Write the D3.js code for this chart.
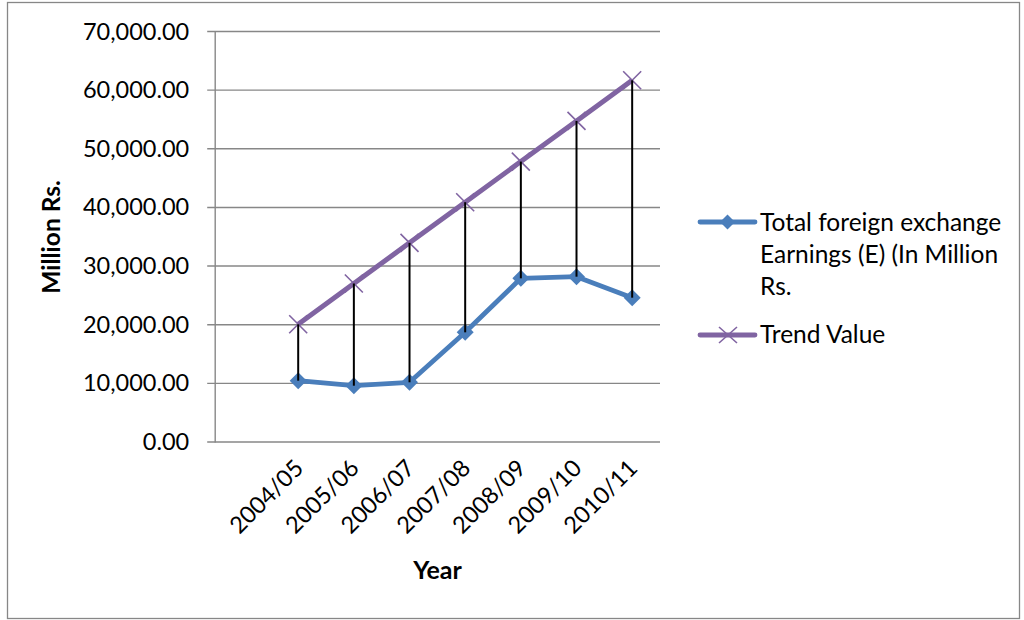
<!DOCTYPE html>
<html>
<head>
<meta charset="utf-8">
<script src="https://cdn.jsdelivr.net/npm/d3@7"></script>
<style>
  html, body { margin: 0; padding: 0; background: #fff; }
  svg { display: block; }
  text { font-family: Lato, "Open Sans", sans-serif; fill: #000; }
</style>
</head>
<body>
<svg id="chart" width="1024" height="620"></svg>
<script>
const categories = ["2004/05", "2005/06", "2006/07", "2007/08", "2008/09", "2009/10", "2010/11"];
const earnings = [10460, 9600, 10180, 18700, 27910, 28190, 24610];
const trend = [20070, 27030, 33960, 40890, 47820, 54750, 61680];
const yTicks = [0, 10000, 20000, 30000, 40000, 50000, 60000, 70000];
const seriesNames = ["Total foreign exchange|Earnings (E) (In Million|Rs.", "Trend Value"];

(function () {
const svg = d3.select("#chart");
const pLeft = 214.7, pRight = 660, pTop = 31.5, pBottom = 442;
const blue = "#4a7ebb", purple = "#8064a2", grid = "#878787";

svg.append("rect").attr("x", 7.5).attr("y", 2.5).attr("width", 1012).attr("height", 616)
  .attr("fill", "#fff").attr("stroke", grid).attr("stroke-width", 1.3);

const slot = (pRight - pLeft) / (categories.length + 1);
const x = d3.scaleBand().domain(categories).range([pLeft + slot, pRight]).padding(0);
const cx = c => x(c) + x.bandwidth() / 2;
const y = d3.scaleLinear().domain([0, 70000]).range([pBottom, pTop]);

// gridlines
svg.append("g").selectAll("line").data(yTicks).join("line")
  .attr("x1", pLeft - 7.5).attr("x2", pRight)
  .attr("y1", d => y(d)).attr("y2", d => y(d))
  .attr("stroke", grid).attr("stroke-width", 1.4);

// y axis
const yAxis = d3.axisLeft(y).tickValues(yTicks).tickFormat(d3.format(",.2f")).tickSize(0).tickPadding(25.5);
const gy = svg.append("g").attr("transform", `translate(${pLeft},0)`).call(yAxis);
gy.select(".domain").attr("stroke", grid).attr("stroke-width", 1.4);
gy.selectAll("text").style("font-size", "23.5px").attr("font-family", "Lato").attr("fill", "#000");

// x axis labels
const xAxis = d3.axisBottom(x).tickSize(0).tickFormat(d => d);
const gx = svg.append("g").attr("transform", `translate(0,${pBottom})`).call(xAxis);
gx.select(".domain").remove();
gx.selectAll("text")
  .style("font-size", "23.5px").attr("font-family", "Lato").attr("fill", "#000")
  .attr("text-anchor", "end")
  .attr("transform", "translate(-5,16) rotate(-45)")
  .attr("dy", "0.7em").attr("y", 0);

const line = d3.line().x(d => cx(d.c)).y(d => y(d.v));
const trendPts = categories.map((c, i) => ({c, v: trend[i]}));
const earnPts = categories.map((c, i) => ({c, v: earnings[i]}));

svg.append("path").datum(trendPts).attr("d", line).attr("fill", "none")
  .attr("stroke", purple).attr("stroke-width", 5).attr("stroke-linejoin", "round");
svg.append("g").selectAll("path").data(trendPts).join("path")
  .attr("d", d => { const px = cx(d.c), py = y(d.v), s = 9;
    return `M${px - s},${py - s}L${px + s},${py + s}M${px - s},${py + s}L${px + s},${py - s}`; })
  .attr("stroke", purple).attr("stroke-width", 1.6).attr("fill", "none");

svg.append("path").datum(earnPts).attr("d", line).attr("fill", "none")
  .attr("stroke", blue).attr("stroke-width", 4.8).attr("stroke-linejoin", "round");
svg.append("g").selectAll("path").data(earnPts).join("path")
  .attr("d", d => { const px = cx(d.c), py = y(d.v), s = 8.5;
    return `M${px},${py - s}L${px + s},${py}L${px},${py + s}L${px - s},${py}Z`; })
  .attr("fill", blue);

// high-low lines
svg.append("g").selectAll("line").data(categories).join("line")
  .attr("x1", c => cx(c)).attr("x2", c => cx(c))
  .attr("y1", (c, i) => y(trend[i])).attr("y2", (c, i) => y(earnings[i]))
  .attr("stroke", "#000").attr("stroke-width", 2);

// axis titles
svg.append("text").attr("transform", "translate(60,237) rotate(-90)")
  .attr("text-anchor", "middle").style("font-size", "24.5px").style("font-weight", "bold").text("Million Rs.");
svg.append("text").attr("x", 437.5).attr("y", 579)
  .attr("text-anchor", "middle").style("font-size", "25px").style("font-weight", "bold").text("Year");

// legend
const lg = svg.append("g");
lg.append("line").attr("x1", 700).attr("x2", 755).attr("y1", 222).attr("y2", 222)
  .attr("stroke", blue).attr("stroke-width", 4.8).attr("stroke-linecap", "round");
lg.append("path").attr("d", "M727.5,214.5L735,222L727.5,229.5L720,222Z").attr("fill", blue);
const t1 = lg.append("text").attr("x", 760).attr("y", 231).style("font-size", "24.5px");
seriesNames[0].split("|").forEach((s, i) => {
  t1.append("tspan").attr("x", 760).attr("dy", i === 0 ? 0 : 32).text(s);
});
lg.append("line").attr("x1", 700).attr("x2", 755).attr("y1", 335).attr("y2", 335)
  .attr("stroke", purple).attr("stroke-width", 4.8).attr("stroke-linecap", "round");
lg.append("path").attr("d", "M719,327L737,343M719,343L737,327").attr("stroke", purple).attr("stroke-width", 1.6);
lg.append("text").attr("x", 760).attr("y", 343).style("font-size", "24.5px").text(seriesNames[1]);
})();
</script>
</body>
</html>
